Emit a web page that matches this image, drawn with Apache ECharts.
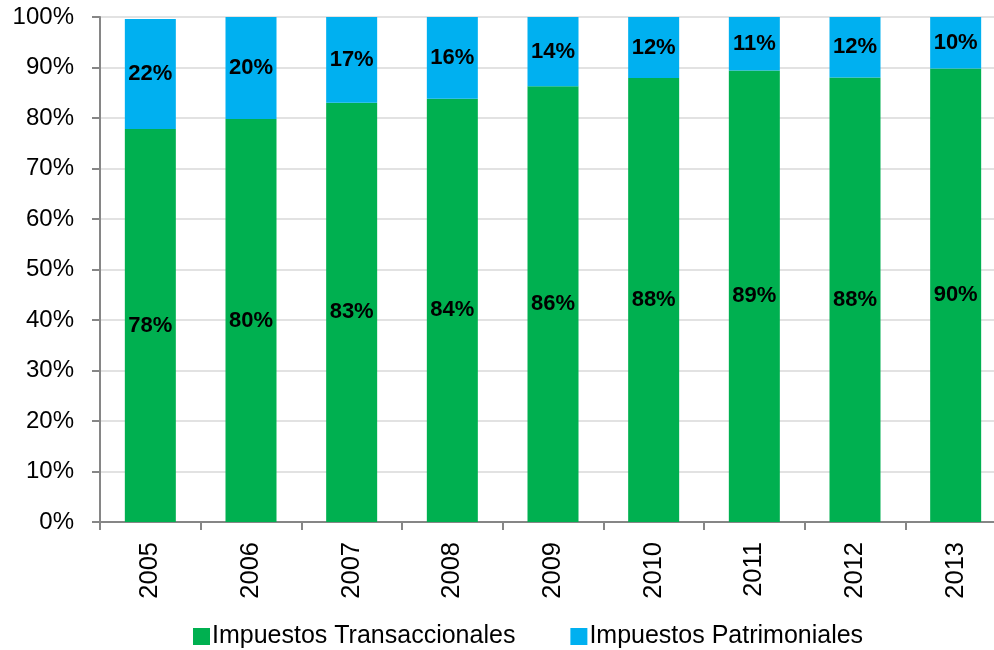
<!DOCTYPE html>
<html>
<head>
<meta charset="utf-8">
<script src="https://cdn.jsdelivr.net/npm/echarts@6/dist/echarts.min.js"></script>
<style>
  html, body { margin: 0; padding: 0; background: #fff; }
  #chart { width: 994px; height: 650px; }
</style>
</head>
<body>
<div id="chart"></div>
<script>
const years = ['2005', '2006', '2007', '2008', '2009', '2010', '2011', '2012', '2013']
// Impuestos Transaccionales (%)
const transaccionales = [77.8, 79.8, 83.0, 83.8, 86.3, 87.9, 89.4, 88.0, 89.8]
// Impuestos Patrimoniales (%)
const patrimoniales = [21.8, 20.2, 17.0, 16.2, 13.7, 12.1, 10.6, 12.0, 10.2]
const yTicks = [0, 10, 20, 30, 40, 50, 60, 70, 80, 90, 100]

const font = '"Liberation Sans", Arial, sans-serif'
let chart = echarts.init(document.getElementById('chart'))

let barLabel = {
  show: true,
  position: 'inside',
  color: '#000',
  fontFamily: font,
  fontWeight: 'bold',
  fontSize: 22,
  formatter: (p) => Math.round(p.value) + '%'
}

let option = {
  animation: false,
  // the last category runs a bit past the right edge in the original
  grid: { left: 100, width: 906, top: 17, bottom: 128, containLabel: false, outerBoundsMode: 'none' },
  legend: {
    left: 188,
    top: 619,
    itemWidth: 17,
    itemHeight: 17,
    itemGap: 55,
    icon: 'rect',
    textStyle: { fontFamily: font, fontSize: 25, color: '#000', padding: [0, 0, 0, -3] },
    data: ['Impuestos Transaccionales', 'Impuestos Patrimoniales']
  },
  xAxis: {
    type: 'category',
    data: years,
    axisLine: { lineStyle: { color: '#868686', width: 2 } },
    axisTick: { show: true, length: 8, lineStyle: { color: '#868686', width: 2 } },
    axisLabel: {
      rotate: 90,
      margin: 20,
      color: '#000',
      fontFamily: font,
      fontSize: 25.5
    }
  },
  yAxis: {
    type: 'value',
    min: yTicks[0],
    max: yTicks[yTicks.length - 1],
    interval: 10,
    axisLine: { show: true, lineStyle: { color: '#868686', width: 2 } },
    axisTick: { show: true, length: 8, lineStyle: { color: '#868686', width: 2 } },
    splitLine: { lineStyle: { color: '#d9d9d9', width: 1.5 } },
    axisLabel: {
      margin: 26,
      color: '#000',
      fontFamily: font,
      fontSize: 24,
      formatter: '{value}%'
    }
  },
  series: [
    {
      name: 'Impuestos Transaccionales',
      type: 'bar',
      stack: 'total',
      barWidth: 51,
      itemStyle: { color: '#00b050' },
      label: barLabel,
      data: transaccionales
    },
    {
      name: 'Impuestos Patrimoniales',
      type: 'bar',
      stack: 'total',
      barWidth: 51,
      itemStyle: { color: '#00b0f0' },
      label: barLabel,
      data: patrimoniales
    }
  ]
}
chart.setOption(option)
</script>
</body>
</html>
